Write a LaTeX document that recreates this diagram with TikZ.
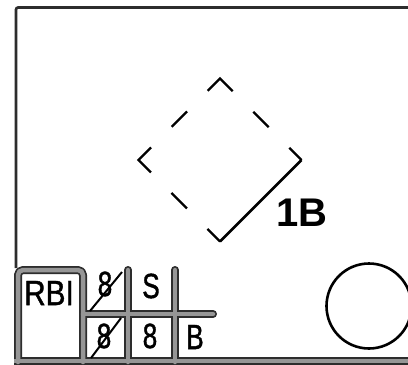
\documentclass[tikz,border=0pt]{standalone}
\usepackage{fontspec}
\setmainfont{Liberation Sans}
\newfontfamily\cellfont[FakeBold=1.2]{Liberation Sans}
\usetikzlibrary{calc}
\definecolor{inkgray}{RGB}{45,45,45}
\definecolor{padgray}{RGB}{150,150,150}

\begin{document}
\begin{tikzpicture}[x=1pt,y=-1pt,
    cellchar/.style={font=\cellfont\fontsize{35}{35}\selectfont,inner sep=0pt},
    basedash/.style={line width=2.4pt,line join=miter,dash pattern=on 35.4pt off 29.1pt on 21.8pt off 29.1pt,dash phase=17.7pt}]
  \useasboundingbox[fill=white] (0,0) rectangle (408,365);
  \draw[line width=2.6pt,inkgray,rounded corners=2pt] (410,7.5) -- (16,7.5) -- (16,268);
  \foreach \w/\c in {8/inkgray,4.5/padgray} {
    \draw[line width=\w pt,\c,line cap=round,line join=round,rounded corners=5pt] (18,362) -- (18,270) -- (83,270) -- (83,362);
    \draw[line width=\w pt,\c,line cap=round] (83,314) -- (213,314);
    \draw[line width=\w pt,\c,line cap=round] (128,270) -- (128,362);
    \draw[line width=\w pt,\c,line cap=round] (175,270) -- (175,362);
    \draw[line width=\w pt,\c] (14,361) -- (412,361);
  }
  \node[cellchar] (rbi) at (49,293) {\scalebox{0.85}[1]{RBI}};
  \node[cellchar] (outa) at (105,284) {\scalebox{0.75}[1]{8}};
  \node[cellchar] (outb) at (151,286) {\scalebox{0.75}[1]{S}};
  \node[cellchar] (runa) at (104,336) {\scalebox{0.75}[1]{8}};
  \node[cellchar] (runb) at (150,336) {\scalebox{0.75}[1]{8}};
  \node[cellchar] (runc) at (195,337) {\scalebox{0.75}[1]{B}};
  \draw[line width=2pt] (90,311) -- (122,272);
  \draw[line width=2pt] (91,358) -- (121,318);
  \coordinate (home) at (220,241.5);
  \coordinate (first) at (301.5,160);
  \coordinate (second) at (220,78.5);
  \coordinate (third) at (138.5,160);
  \draw[basedash] (home) -- (third) -- (second) -- (first);
  \draw[line width=2.8pt] (home) -- (first);
  \node[font=\bfseries\fontsize{40}{40}\selectfont,inner sep=0pt] (hitlbl) at (302,212.5) {1B};
  \node[circle,draw,line width=2.6pt,minimum size=85pt,inner sep=0pt] (ball) at (369,306) {};
\end{tikzpicture}
\end{document}
